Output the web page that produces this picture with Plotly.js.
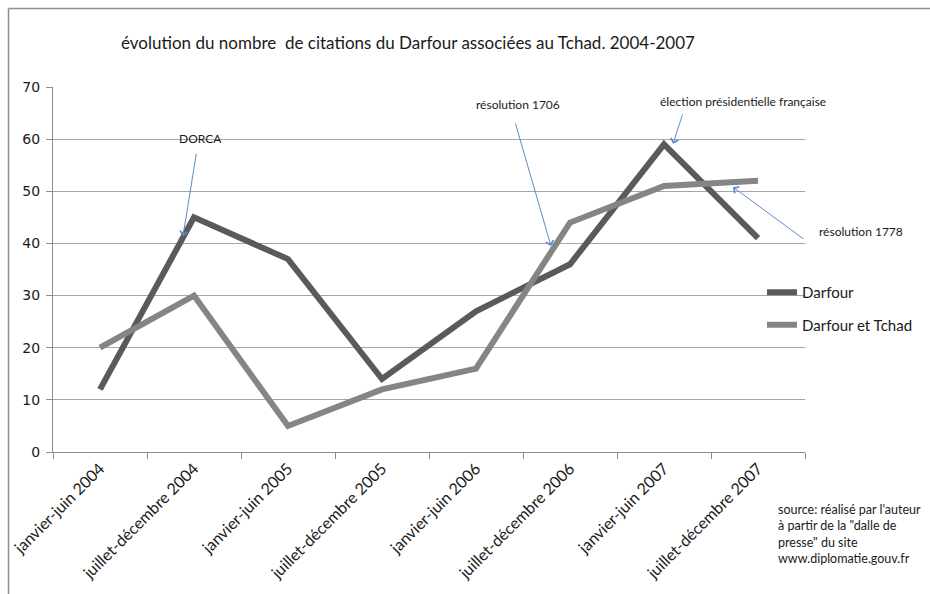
<!DOCTYPE html>
<html>
<head>
<meta charset="utf-8">
<script src="https://cdn.plot.ly/plotly-3.0.1.min.js"></script>
<style>html,body{margin:0;padding:0;background:#fff;}#chart{width:930px;height:594px;}</style>
</head>
<body>
<div id="chart"></div>
<script>
var categories = ["janvier-juin 2004", "juillet-décembre 2004", "janvier-juin 2005", "juillet-décembre 2005",
                  "janvier-juin 2006", "juillet-décembre 2006", "janvier-juin 2007", "juillet-décembre 2007"];
var darfour = [12, 45, 37, 14, 27, 36, 59, 41];
var darfourTchad = [20, 30, 5, 12, 16, 44, 51, 52];
var seriesNames = ["Darfour", "Darfour et Tchad"];
var yTicks = [0, 10, 20, 30, 40, 50, 60, 70];
var titleText = "évolution du nombre\u00a0 de citations du Darfour associées au Tchad. 2004-2007";
var sourceLines = ["source: réalisé par l'auteur", "à partir de la \"dalle de", "presse\" du site", "www.diplomatie.gouv.fr"];

var txtFont = "Lato, 'Open Sans', sans-serif";
var arrowColor = "#5b8bc8";

var traces = [
  {x: categories, y: darfour, name: seriesNames[0], type: "scatter", mode: "lines",
   line: {color: "#5a5a5a", width: 6}, legendgroup: "a"},
  {x: categories, y: darfourTchad, name: seriesNames[1], type: "scatter", mode: "lines",
   line: {color: "#858585", width: 6}, legendgroup: "b"}
];

function textAnn(text, x, y, ref) {
  return {text: text, x: x, y: y, xref: ref || "x", yref: ref || "y", showarrow: false,
          font: {family: txtFont, size: 12, color: "#1a1a1a"}, xanchor: "center", yanchor: "middle"};
}
function arrowAnn(tx, ty, hx, hy) {
  return {text: "", x: hx, y: hy, ax: tx, ay: ty, xref: "x", yref: "y", axref: "x", ayref: "y",
          showarrow: true, arrowhead: 4, arrowsize: 1.5, arrowwidth: 1, arrowcolor: arrowColor,
          standoff: 0, startstandoff: 0};
}

var layout = {
  width: 930, height: 594,
  margin: {l: 53, r: 125, t: 87, b: 142},
  paper_bgcolor: "#ffffff", plot_bgcolor: "#ffffff",
  title: {text: titleText, x: 408/930, xref: "container", xanchor: "center",
          y: 1 - 43/594, yref: "container", yanchor: "middle",
          font: {family: txtFont, size: 17, color: "#1a1a1a"}},
  xaxis: {type: "category", range: [-0.5, 7.5], showgrid: false, showline: true, linecolor: "#8c8c8c", linewidth: 1,
          ticks: "outside", tickson: "boundaries", ticklen: 6, tickcolor: "#8c8c8c",
          tickangle: -45, tickfont: {family: txtFont, size: 16, color: "#1a1a1a"}, zeroline: false},
  yaxis: {range: [0, 70], tickvals: yTicks, showgrid: true, gridcolor: "#a6a6a6", gridwidth: 1,
          showline: true, linecolor: "#8c8c8c", ticks: "outside", ticklen: 6, tickcolor: "#8c8c8c",
          tickfont: {family: "'DejaVu Sans', Verdana, sans-serif", size: 14, color: "#1a1a1a"},
          zeroline: false, ticklabelstandoff: 3},
  showlegend: true,
  legend: {x: (762-53)/752, xanchor: "left", y: (452-276)/365, yanchor: "top",
           font: {family: txtFont, size: 15, color: "#1a1a1a"}, traceorder: "grouped", tracegroupgap: 10,
           bgcolor: "rgba(0,0,0,0)", borderwidth: 0},
  shapes: [
    {type: "line", xref: "paper", yref: "paper", x0: (8.5-53)/752, x1: (931-53)/752,
     y0: (452-8.5)/365, y1: (452-8.5)/365, line: {color: "#8c8c8c", width: 1.5}},
    {type: "line", xref: "paper", yref: "paper", x0: (8.5-53)/752, x1: (8.5-53)/752,
     y0: (452-8.5)/365, y1: (452-595)/365, line: {color: "#8c8c8c", width: 1.5}}
  ],
  annotations: [
    textAnn("DORCA", 1.074, 60.2),
    arrowAnn(1.027, 57.5, 0.883, 41.4),
    textAnn("résolution 1706", 4.447, 66.7),
    arrowAnn(4.415, 63.3, 4.798, 39.5),
    textAnn("élection présidentielle française", 6.84, 67.3),
    arrowAnn(6.202, 65.0, 6.096, 59.1),
    textAnn("résolution 1778", (861-53)/752, (452-231)/365, "paper"),
    arrowAnn(7.5, 40.66, 6.734, 50.8),
    {text: sourceLines.join("<br>"), xref: "paper", yref: "paper", x: (776-53)/752, y: (452-500)/365,
     xanchor: "left", yanchor: "top", align: "left", showarrow: false,
     font: {family: txtFont, size: 12.5, color: "#1a1a1a"}}
  ]
};

Plotly.newPlot("chart", traces, layout, {displayModeBar: false, staticPlot: true});
</script>
</body>
</html>
